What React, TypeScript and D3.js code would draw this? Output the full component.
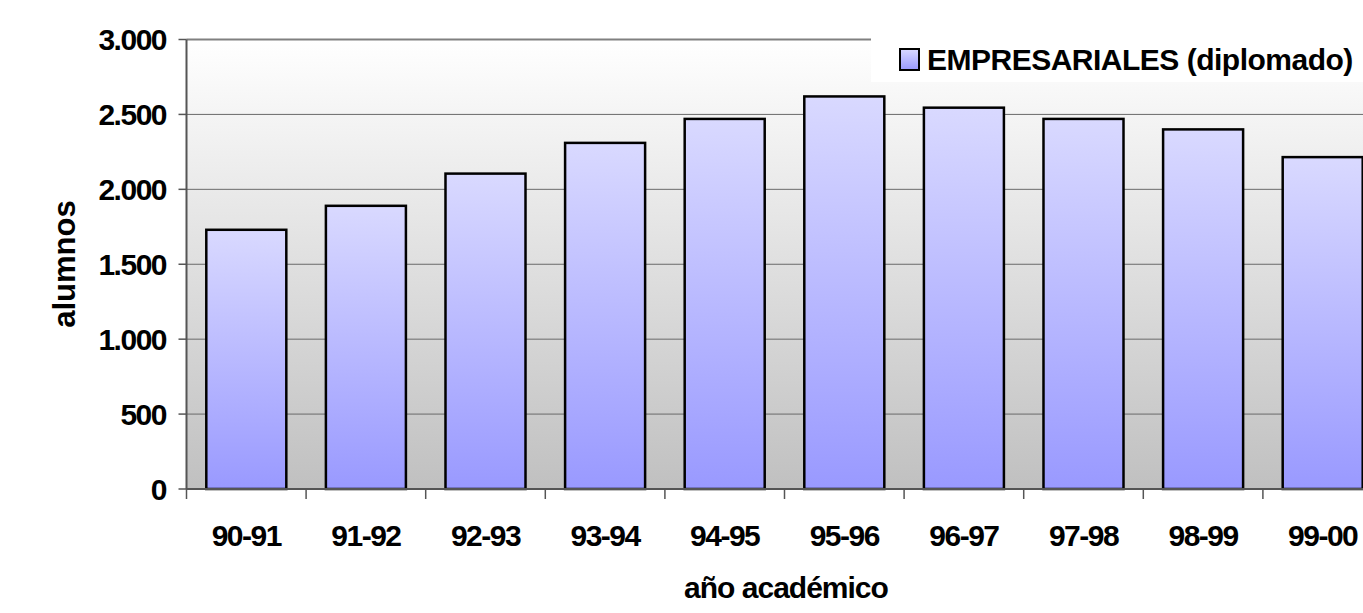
import React from "react";
import * as d3 from "d3";

const categories = ["90-91", "91-92", "92-93", "93-94", "94-95", "95-96", "96-97", "97-98", "98-99", "99-00"];
const alumnos = [1730, 1890, 2105, 2310, 2470, 2620, 2545, 2470, 2400, 2215];
const yTicks = [0, 500, 1000, 1500, 2000, 2500, 3000];
const seriesName = "EMPRESARIALES (diplomado)";

const W = 1363;
const H = 613;
const left = 186.5;
const step = 119.6;
const top = 39.5;
const bottom = 489;

export default function App() {
  const x = d3
    .scaleBand<string>()
    .domain(categories)
    .range([left, left + step * categories.length])
    .paddingInner(0.331)
    .paddingOuter(0.1655);
  const y = d3.scaleLinear().domain([0, 3000]).range([bottom, top]);
  const fmt = (v: number) => d3.format(",")(v).replace(/,/g, ".");
  const font = "'Liberation Sans', Arial, sans-serif";
  const plotRight = left + step * categories.length;

  return (
    <div style={{ position: "absolute", left: 0, top: 0, width: W, height: H, overflow: "hidden", background: "#fff" }}>
      <svg width={W} height={H} style={{ display: "block" }}>
        <defs>
          <linearGradient id="plotbg" x1="0" y1="0" x2="0" y2="1">
            <stop offset="0" stopColor="#ffffff" />
            <stop offset="1" stopColor="#c0c0c0" />
          </linearGradient>
          <linearGradient id="barfill" x1="0" y1="0" x2="0" y2="1">
            <stop offset="0" stopColor="#d9d9ff" />
            <stop offset="1" stopColor="#9999ff" />
          </linearGradient>
        </defs>
        <rect x={left} y={top} width={plotRight - left} height={bottom - top} fill="url(#plotbg)" />
        {yTicks.filter((t) => t > 0).map((t) => (
          <line key={t} x1={left} x2={plotRight} y1={y(t)} y2={y(t)} stroke={t === 3000 ? "#808080" : "#6a6a6a"} strokeWidth={t === 3000 ? 2 : 1} />
        ))}
        {categories.map((c, i) => (
          <rect
            key={c}
            x={x(c)!}
            y={y(alumnos[i])}
            width={x.bandwidth()}
            height={bottom - y(alumnos[i])}
            fill="url(#barfill)"
            stroke="#000"
            strokeWidth={2.5}
          />
        ))}
        {/* axes */}
        <line x1={left} x2={left} y1={top} y2={bottom} stroke="#555" strokeWidth={2} />
        <line x1={left} x2={plotRight} y1={bottom} y2={bottom} stroke="#555" strokeWidth={2} />
        {yTicks.map((t) => (
          <g key={t}>
            <line x1={left - 8} x2={left} y1={y(t)} y2={y(t)} stroke="#555" strokeWidth={1.5} />
            <text x={166} y={y(t) + 10.5} textAnchor="end" fontFamily={font} fontWeight="bold" fontSize={30} letterSpacing={-1.5} fill="#000">
              {fmt(t)}
            </text>
          </g>
        ))}
        {d3.range(categories.length + 1).map((i) => (
          <line key={i} x1={left + i * step} x2={left + i * step} y1={bottom} y2={bottom + 10} stroke="#555" strokeWidth={1.5} />
        ))}
        {categories.map((c) => (
          <text key={c} x={x(c)! + x.bandwidth() / 2} y={546} textAnchor="middle" fontFamily={font} fontWeight="bold" fontSize={30} letterSpacing={-1.5} fill="#000">
            {c}
          </text>
        ))}
        {/* axis titles */}
        <rect x={680} y={562} width={210} height={51} fill="#fff" />
        <text x={786} y={598} textAnchor="middle" fontFamily={font} fontWeight="bold" fontSize={30} letterSpacing={-1} fill="#000">
          año académico
        </text>
        <text transform={`translate(75,264) rotate(-90)`} textAnchor="middle" fontFamily={font} fontWeight="bold" fontSize={31} fill="#000">
          alumnos
        </text>
        {/* legend */}
        <rect x={871} y={38} width={492} height={44} fill="#fff" />
        <rect x={900} y={49} width={19} height={21} fill="url(#barfill)" stroke="#000" strokeWidth={2} />
        <text x={927} y={70} fontFamily={font} fontWeight="bold" fontSize={30} letterSpacing={-0.5} fill="#000">
          {seriesName}
        </text>
      </svg>
    </div>
  );
}
